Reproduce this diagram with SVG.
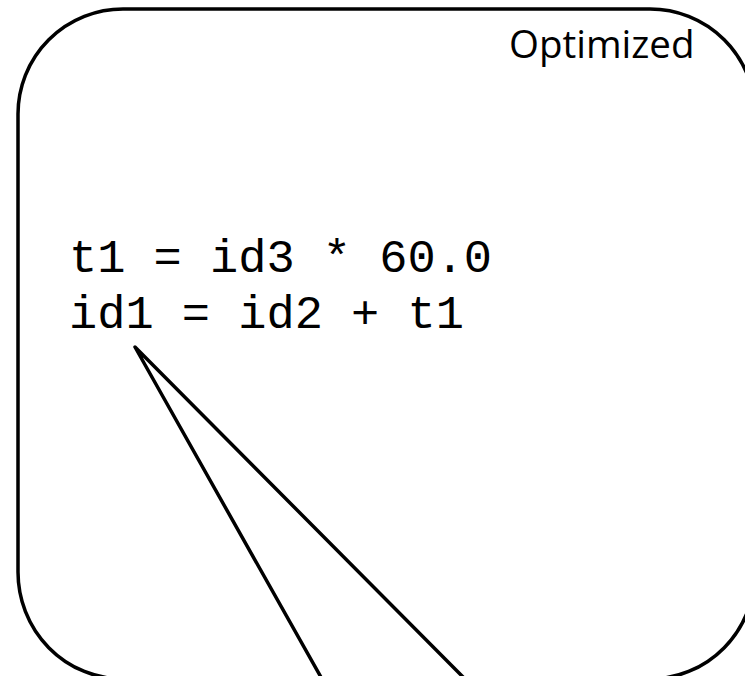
<svg xmlns="http://www.w3.org/2000/svg" width="745" height="676" viewBox="0 0 745 676">
<style>
.shape{fill:#fff;stroke:#000;stroke-width:3.5;stroke-linejoin:round}
.title{font-family:"Open Sans","Noto Sans",sans-serif;font-size:38.5px;fill:#000}
.code{font-family:"Liberation Mono","Courier New",monospace;font-size:47px;fill:#000}
</style>
<rect width="745" height="676" fill="#fff"/>
<g id="callout">
<path class="shape" d="M 123 9 L 650 9 A 105 105 0 0 1 755 114 L 755 572 A 105 107 0 0 1 650 679 L 465 679 L 135 347 L 322 679 L 123 679 A 105 107 0 0 1 18 572 L 18 114 A 105 105 0 0 1 123 9 Z"/>
<text class="title" x="509" y="58">Optimized</text>
<text class="code" x="69" y="272" xml:space="preserve">t1 = id3 * 60.0</text>
<text class="code" x="69" y="328" xml:space="preserve">id1 = id2 + t1</text>
</g>
<g id="connectors"></g>
</svg>
